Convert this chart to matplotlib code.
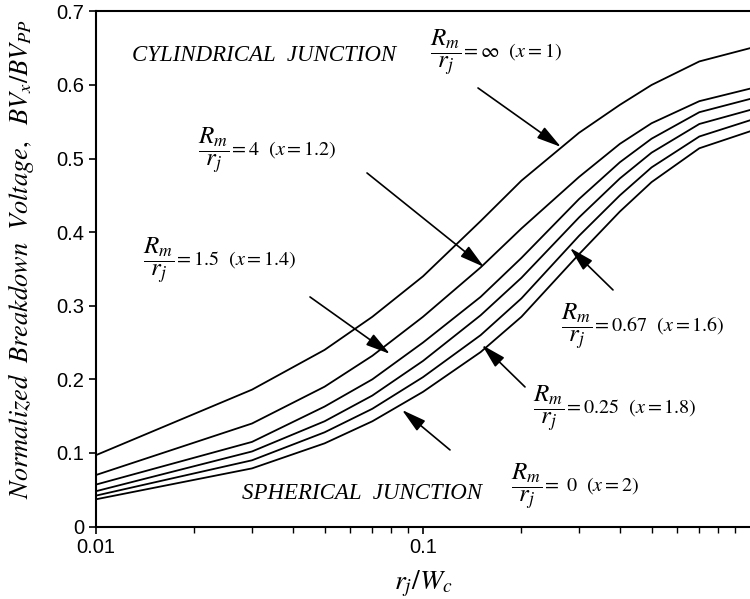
import matplotlib.pyplot as plt
import numpy as np
from matplotlib.ticker import FixedLocator, NullFormatter

plt.rcParams['mathtext.fontset'] = 'stix'
plt.rcParams['font.family'] = ['DejaVu Sans']

# r_j / W_c
x = [0.01, 0.03, 0.05, 0.07, 0.1, 0.15, 0.2, 0.3, 0.4, 0.5, 0.7, 1.0]

# normalized breakdown voltage for each R_m/r_j
bv_inf = [0.097, 0.186, 0.240, 0.285, 0.340, 0.415, 0.470, 0.535, 0.573, 0.600, 0.632, 0.650]
bv_4 = [0.070, 0.140, 0.190, 0.232, 0.285, 0.352, 0.405, 0.475, 0.520, 0.548, 0.578, 0.595]
bv_15 = [0.057, 0.115, 0.163, 0.200, 0.250, 0.312, 0.365, 0.445, 0.495, 0.527, 0.563, 0.581]
bv_067 = [0.048, 0.102, 0.143, 0.178, 0.225, 0.287, 0.338, 0.420, 0.473, 0.508, 0.547, 0.566]
bv_025 = [0.042, 0.090, 0.128, 0.160, 0.203, 0.260, 0.310, 0.395, 0.450, 0.488, 0.530, 0.552]
bv_0 = [0.037, 0.079, 0.113, 0.143, 0.183, 0.237, 0.285, 0.370, 0.428, 0.468, 0.514, 0.537]

series = [bv_inf, bv_4, bv_15, bv_067, bv_025, bv_0]

ratio_txt = [r'$=\infty\ \ (x = 1)$', r'$=4\ \ (x = 1.2)$', r'$=1.5\ \ (x = 1.4)$',
             r'$=0.67\ \ (x = 1.6)$', r'$=0.25\ \ (x = 1.8)$', r'$=\ 0\ \ (x = 2)$']

fig = plt.figure(figsize=(7.5, 5.99), dpi=100)
ax = fig.add_axes([0.128, 0.121, 0.872, 0.860])

for s in series:
    ax.plot(x, s, color='black', lw=1.3)

ax.set_xscale('log')
ax.set_xlim(0.01, 1.0)
ax.set_ylim(0, 0.7)
ax.set_xticks([0.01, 0.1])
ax.set_xticklabels(['0.01', '0.1'])
ax.xaxis.set_minor_locator(FixedLocator([k * 0.01 for k in range(2, 10)] + [k * 0.1 for k in range(2, 10)]))
ax.xaxis.set_minor_formatter(NullFormatter())
ax.set_yticks(np.arange(0, 0.71, 0.1))
ax.set_yticklabels(['0', '0.1', '0.2', '0.3', '0.4', '0.5', '0.6', '0.7'])
ax.tick_params(axis='both', which='major', labelsize=14.5, length=5, width=1.2, direction='out')
ax.tick_params(axis='x', which='minor', length=4, width=1.0, direction='out')
for lab in ax.get_xticklabels() + ax.get_yticklabels():
    lab.set_fontfamily('Liberation Sans')
ax.spines['right'].set_visible(False)
for sp in ['left', 'bottom', 'top']:
    ax.spines[sp].set_linewidth(1.5)

ax.set_xlabel(r'$r_j/W_c$', fontsize=20, labelpad=8)
ax.set_ylabel(r'$\mathit{Normalized\ \ Breakdown\ \ Voltage,\ \ BV_x/BV_{PP}}$', fontsize=19)
ax.yaxis.set_label_coords(-0.092, 0.52)


def px(xp, yp):
    # pixel position in the figure -> data coordinates
    return 10 ** (-2 + (xp - 96) / 327.0), (526.6 - yp) / 736.0


serif = dict(family='Liberation Serif', style='italic', fontsize=16.5, color='black', va='center', ha='left')
ax.text(*px(132, 56), 'CYLINDRICAL  JUNCTION', **serif)
ax.text(*px(242, 494), 'SPHERICAL  JUNCTION', **serif)

frac = r'$\dfrac{R_m}{r_j}$'
# fraction left edge and centre, in pixels
label_pos = [(430, 52), (198, 150), (143, 260), (561, 326), (533, 408), (511, 486)]
for (x0, yc), t in zip(label_pos, ratio_txt):
    f = ax.text(*px(x0, yc), frac, fontsize=18, va='center', ha='left')
    ax.annotate(t, xy=(1, 0.5), xycoords=f, xytext=(0, 0), textcoords='offset points',
                fontsize=14.5, va='center', ha='left')

arrows = [((478, 88), (561, 147)),
          ((367, 173), (484, 267)),
          ((310, 297), (390, 354)),
          ((613, 290), (570, 248)),
          ((525, 387), (482, 345)),
          ((450, 450), (402, 410))]
for tail, tip in arrows:
    ax.annotate('', xy=px(*tip), xytext=px(*tail),
                arrowprops=dict(arrowstyle='-|>,head_length=1.5,head_width=0.4', color='black', lw=1.2,
                                shrinkA=0, shrinkB=0))

fig.savefig('out.png', dpi=100)
